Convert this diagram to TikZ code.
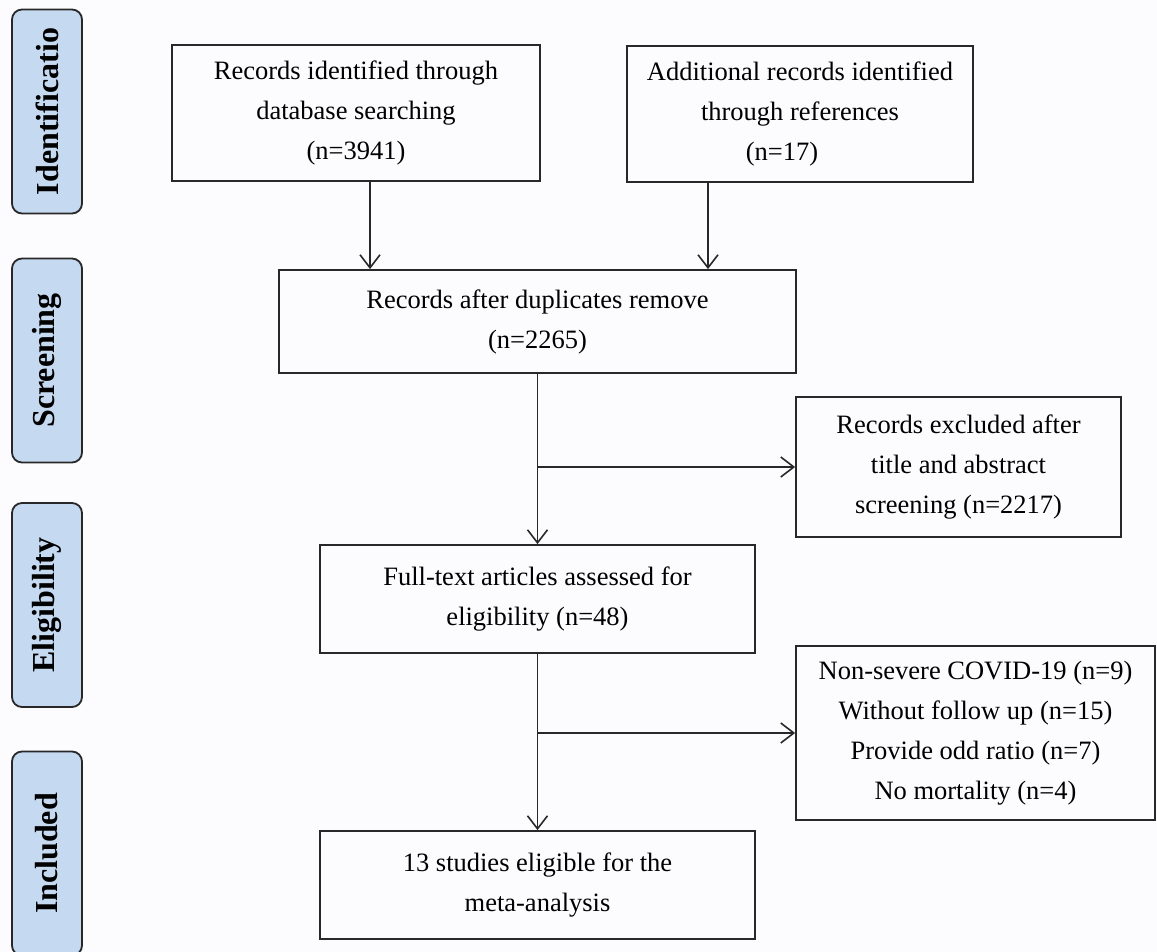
\documentclass[tikz,border=0pt]{standalone}
\usepackage{fontspec}
\setmainfont{Liberation Serif}
\usetikzlibrary{arrows.meta}
\definecolor{stageblue}{RGB}{197,217,241}
\definecolor{edge}{RGB}{40,40,40}
\definecolor{bg}{RGB}{252,252,254}
\begin{document}
\begin{tikzpicture}[x=1pt,y=-1pt,
  box/.style={draw=edge, line width=1.8pt, inner sep=0pt, align=center,
    font=\fontsize{26.5}{40}\selectfont},
  stage/.style={draw=edge, line width=1.8pt, rounded corners=10pt, fill=stageblue,
    inner sep=0pt, rotate=90, minimum width=204pt, minimum height=70pt,
    font=\fontsize{32}{38}\selectfont\bfseries},
  arr/.style={draw=edge, line width=1.6pt,
    -{Straight Barb[length=13pt,width=20pt,line width=1.6pt]}},
  ln/.style={draw=edge, line width=1.6pt}]
\fill[bg] (0,0) rectangle (1157,952);
\useasboundingbox (0,0) rectangle (1157,952);

% stage labels
\node[stage] (s1) at (47,111.5) {Identificatio};
\node[stage] (s2) at (47,360.5) {Screening};
\node[stage] (s3) at (47,605) {Eligibility};
\node[stage] (s4) at (47,853.5) {Included};

% boxes
\node[box, minimum width=368pt, minimum height=136pt] (A) at (356,113)
  {Records identified through\\database searching\\(n=3941)};
\node[box, minimum width=346pt, minimum height=136pt] (B) at (800,114)
  {Additional records identified\\through references\\(n=17)\hspace*{36pt}};
\node[box, minimum width=517pt, minimum height=103pt] (C) at (537.5,321.5)
  {Records after duplicates remove\\(n=2265)};
\node[box, minimum width=325pt, minimum height=140pt] (E) at (958.5,467)
  {Records excluded after\\title and abstract\\screening (n=2217)};
\node[box, minimum width=435pt, minimum height=108pt] (D) at (537.5,599)
  {Full-text articles assessed for\\eligibility (n=48)};
\node[box, minimum width=359pt, minimum height=174pt] (F) at (975.5,733)
  {Non-severe COVID-19 (n=9)\\Without follow up (n=15)\\Provide odd ratio (n=7)\\No mortality (n=4)};
\node[box, minimum width=435pt, minimum height=108pt] (G) at (537.5,885)
  {13 studies eligible for the\\meta-analysis};

% connectors
\draw[arr] ([xshift=14pt]A.south) -- ([xshift=14pt]A.south |- C.north);
\draw[arr] ([xshift=-92pt]B.south) -- ([xshift=-92pt]B.south |- C.north);
\coordinate (j1) at (C.south |- E.west);
\draw[arr] (C.south) -- (D.north);
\draw[arr] (j1) -- (E.west);
\coordinate (j2) at (D.south |- F.west);
\draw[arr] (D.south) -- (G.north);
\draw[arr] (j2) -- (F.west);
\end{tikzpicture}
\end{document}
